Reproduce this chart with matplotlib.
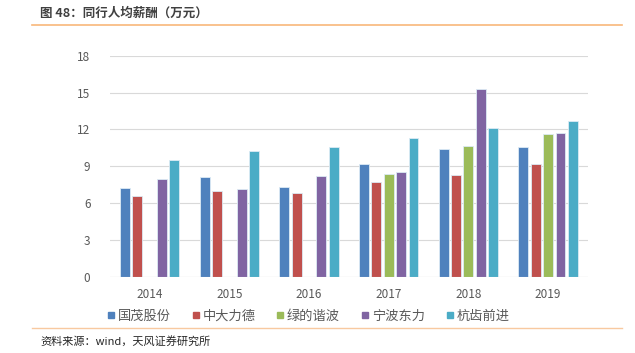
import numpy as np
import matplotlib
matplotlib.use('Agg')
import matplotlib.pyplot as plt
from matplotlib.lines import Line2D

plt.rcParams['font.family'] = ['Noto Sans CJK SC', 'DejaVu Sans']

years = ['2014', '2015', '2016', '2017', '2018', '2019']
companies = ['国茂股份', '中大力德', '绿的谐波', '宁波东力', '杭齿前进']
guomao = [7.25, 8.09, 7.33, 9.20, 10.37, 10.59]
zhongda = [6.55, 6.98, 6.79, 7.69, 8.26, 9.20]
lvde = [np.nan, np.nan, np.nan, 8.36, 10.64, 11.60]
ningbo = [7.93, 7.14, 8.20, 8.53, 15.31, 11.70]
hangchi = [9.48, 10.21, 10.59, 11.32, 12.08, 12.70]
colors = ['#4F81BD', '#C0504D', '#9BBB59', '#8064A2', '#4BACC6']


def main():
    series = [guomao, zhongda, lvde, ningbo, hangchi]
    fig = plt.figure(figsize=(6.35, 3.53), dpi=100)
    ax = fig.add_axes([0.173, 0.216, 0.753, 0.626])

    x = np.arange(len(years))
    slot = 0.155
    width = 0.125
    for i, vals in enumerate(series):
        ax.bar(x + (i - 2) * slot, vals, width, color=colors[i],
               edgecolor='#DCEBF5', linewidth=0.6, label=companies[i], zorder=3)

    ax.set_xlim(-0.5, len(years) - 0.5)
    ax.set_ylim(0, 18)
    ax.set_yticks(range(0, 19, 3))
    ax.set_xticks(x)
    ax.set_xticklabels(years)
    ax.grid(axis='y', color='#D9D9D9', linewidth=0.8, zorder=0)
    for s in ax.spines.values():
        s.set_visible(False)
    ax.axhline(0, color='#D9D9D9', linewidth=0.8, zorder=4)
    ax.tick_params(length=0, labelsize=8.5, labelcolor='#595959')
    ax.tick_params(axis='y', pad=14)
    ax.tick_params(axis='x', pad=8)

    handles = [Line2D([], [], marker='s', linestyle='none', markersize=4.5,
                      color=c) for c in colors]
    ax.legend(handles, companies, loc='upper center', bbox_to_anchor=(0.415, -0.095),
              ncol=5, frameon=False, fontsize=9.5, handlelength=0.6,
              handletextpad=0.2, columnspacing=1.6, labelcolor='#595959')

    fig.text(0.063, 0.962, '图 48：同行人均薪酬（万元）', fontsize=9,
             fontweight='bold', color='#404040', va='center')
    fig.add_artist(Line2D([0.05, 0.98], [0.929, 0.929], color='#F8B77A',
                          linewidth=1.2))
    fig.add_artist(Line2D([0.05, 0.98], [0.072, 0.072], color='#F8C9A0',
                          linewidth=1.0))
    fig.text(0.063, 0.033, '资料来源：wind，天风证券研究所', fontsize=8,
             color='#262626', va='center')

    fig.savefig('out.png', dpi=100)


if __name__ == '__main__':
    main()
